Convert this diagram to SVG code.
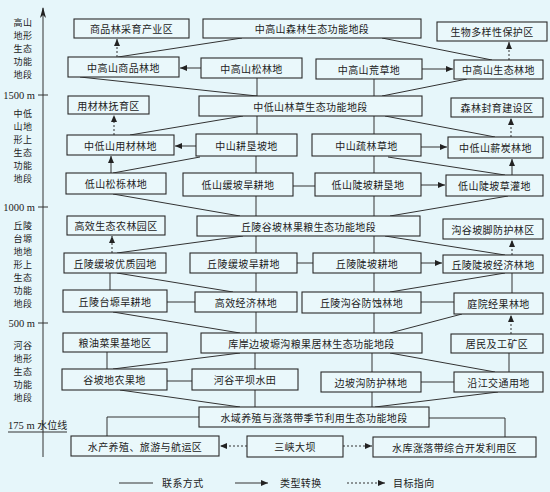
<svg xmlns="http://www.w3.org/2000/svg" width="550" height="492" viewBox="0 0 550 492">
<style>
.bg{fill:#e6f6fa}
.box rect{fill:#eaf8fb;stroke:#2a2a2a;stroke-width:1.1}
.box text,.lbl{font-family:"Noto Sans CJK SC","Noto Sans",sans-serif;font-size:10px;fill:#222;letter-spacing:0.4px}
.box text{text-anchor:middle;dominant-baseline:central}
.ax{font-family:"Noto Sans CJK SC","Noto Sans",sans-serif;font-size:9px;fill:#222;letter-spacing:0.6px;text-anchor:middle}
.num{font-family:"Liberation Serif",serif;font-size:10.5px;fill:#222}
.ln{stroke:#333;stroke-width:1;fill:none}
.ar{stroke:#333;stroke-width:1;fill:none;marker-end:url(#ah)}
.da{stroke:#333;stroke-width:1;fill:none;stroke-dasharray:2,2;marker-end:url(#ah)}
</style>
<defs>
<marker id="ah" markerUnits="userSpaceOnUse" markerWidth="8" markerHeight="6" refX="7" refY="3" orient="auto"><path d="M0,0 L7,3 L0,6 z" fill="#222"/></marker>
<marker id="axh" markerUnits="userSpaceOnUse" markerWidth="8" markerHeight="12" refX="4" refY="1" orient="0"><path d="M4,0 L7,11 L4,8 L1,11 z" fill="#222"/></marker>
</defs>
<rect class="bg" x="0" y="0" width="550" height="492"/>

<g id="axis">
<line class="ln" x1="43" y1="457" x2="43" y2="8" marker-end="url(#axh)"/>
<line class="ln" x1="38" y1="95" x2="48" y2="95"/>
<line class="ln" x1="38" y1="207" x2="48" y2="207"/>
<line class="ln" x1="38" y1="323" x2="48" y2="323"/>
<text class="num" x="35" y="98.5" text-anchor="end">1500 m</text>
<text class="num" x="35" y="210.5" text-anchor="end">1000 m</text>
<text class="num" x="35" y="326.5" text-anchor="end">500 m</text>
<text class="num" x="8" y="429">175 m <tspan font-family="Noto Sans CJK SC,sans-serif" font-size="10">水位线</tspan></text>
<line class="ln" x1="8" y1="432" x2="67" y2="432"/>
<g class="ax">
<text x="23" y="26">高山</text><text x="23" y="39">地形</text><text x="23" y="52">生态</text><text x="23" y="65">功能</text><text x="23" y="78">地段</text>
<text x="23" y="117">中低</text><text x="23" y="130">山地</text><text x="23" y="143">形上</text><text x="23" y="156">生态</text><text x="23" y="169">功能</text><text x="23" y="182">地段</text>
<text x="23" y="229">丘陵</text><text x="23" y="242">台塬</text><text x="23" y="255">地地</text><text x="23" y="268">形上</text><text x="23" y="281">生态</text><text x="23" y="294">功能</text><text x="23" y="307">地段</text>
<text x="23" y="349">河谷</text><text x="23" y="362">地形</text><text x="23" y="375">生态</text><text x="23" y="388">功能</text><text x="23" y="401">地段</text>
</g>
</g>

<g id="connectors">
<line class="ln" x1="242" y1="38" x2="118" y2="57"/>
<line class="ln" x1="382" y1="38" x2="492" y2="60"/>
<line class="ln" x1="80" y1="77" x2="257" y2="96"/>
<line class="ln" x1="467" y1="79" x2="382" y2="96"/>
<line class="ln" x1="243" y1="116" x2="130" y2="135"/>
<line class="ln" x1="385" y1="116" x2="495" y2="137"/>
<line class="ln" x1="200" y1="157" x2="113" y2="173"/>
<line class="ln" x1="388" y1="157" x2="505" y2="175"/>
<line class="ln" x1="113" y1="194" x2="240" y2="216"/>
<line class="ln" x1="508" y1="196" x2="390" y2="216"/>
<line class="ln" x1="243" y1="236" x2="117" y2="253"/>
<line class="ln" x1="385" y1="236" x2="505" y2="255"/>
<line class="ln" x1="117" y1="273" x2="233" y2="292"/>
<line class="ln" x1="505" y1="273" x2="390" y2="292"/>
<line class="ln" x1="113" y1="312" x2="240" y2="333"/>
<line class="ln" x1="462" y1="314" x2="390" y2="333"/>
<line class="ln" x1="240" y1="353" x2="113" y2="369"/>
<line class="ln" x1="390" y1="353" x2="495" y2="372"/>
<line class="ln" x1="120" y1="390" x2="240" y2="407"/>
<line class="ln" x1="498" y1="392" x2="375" y2="407"/>
<line class="ln" x1="257" y1="78" x2="257" y2="96"/>
<line class="ln" x1="374" y1="79" x2="374" y2="96"/>
<line class="ln" x1="257" y1="116" x2="257" y2="134"/>
<line class="ln" x1="374" y1="116" x2="374" y2="134"/>
<line class="ln" x1="256" y1="156" x2="256" y2="173"/>
<line class="ln" x1="374" y1="156" x2="374" y2="173"/>
<line class="ln" x1="256" y1="196" x2="256" y2="216"/>
<line class="ln" x1="374" y1="196" x2="374" y2="216"/>
<line class="ln" x1="256" y1="236" x2="256" y2="253"/>
<line class="ln" x1="374" y1="236" x2="374" y2="253"/>
<line class="ln" x1="256" y1="273" x2="256" y2="292"/>
<line class="ln" x1="374" y1="273" x2="374" y2="292"/>
<line class="ln" x1="110" y1="273" x2="110" y2="290"/>
<line class="ln" x1="512" y1="273" x2="512" y2="293"/>
<line class="ln" x1="256" y1="312" x2="256" y2="333"/>
<line class="ln" x1="374" y1="313" x2="374" y2="333"/>
<line class="ln" x1="107" y1="352" x2="107" y2="369"/>
<line class="ln" x1="255" y1="353" x2="255" y2="369"/>
<line class="ln" x1="372" y1="353" x2="372" y2="372"/>
<line class="ln" x1="509" y1="353" x2="509" y2="372"/>
<line class="ln" x1="255" y1="390" x2="255" y2="407"/>
<line class="ln" x1="372" y1="392" x2="372" y2="407"/>
<line class="ln" x1="293" y1="186" x2="315" y2="186"/>
<line class="ln" x1="297" y1="263" x2="313" y2="263"/>
<line class="ln" x1="167" y1="302" x2="195" y2="302"/>
<line class="ln" x1="421" y1="302" x2="454" y2="302"/>
<line class="ln" x1="167" y1="381" x2="192" y2="381"/>
<line class="ln" x1="421" y1="382" x2="454" y2="382"/>
<polyline class="ln" points="199,417 107,417 107,436"/>
<polyline class="ln" points="429,418 505,418 505,437"/>
<line class="ar" x1="201" y1="68" x2="180" y2="68"/>
<line class="ar" x1="422" y1="69" x2="453" y2="69"/>
<line class="ar" x1="196" y1="146" x2="175" y2="146"/>
<line class="ar" x1="421" y1="147" x2="447" y2="147"/>
<line class="ar" x1="111" y1="173" x2="111" y2="156"/>
<line class="ar" x1="512" y1="175" x2="512" y2="159"/>
<line class="ar" x1="421" y1="185" x2="445" y2="185"/>
<line class="ar" x1="421" y1="263" x2="442" y2="263"/>
<line class="da" x1="117" y1="57" x2="117" y2="39"/>
<line class="da" x1="509" y1="60" x2="509" y2="42"/>
<line class="da" x1="114" y1="135" x2="114" y2="115"/>
<line class="da" x1="511" y1="137" x2="511" y2="118"/>
<line class="da" x1="112" y1="253" x2="112" y2="236"/>
<line class="da" x1="512" y1="255" x2="512" y2="240"/>
<line class="da" x1="511" y1="334" x2="511" y2="315"/>
<line class="da" x1="247" y1="446" x2="220" y2="446"/>
<line class="da" x1="343" y1="446" x2="372" y2="446"/>
</g>

<g id="n1" class="box"><rect x="74" y="19" width="115" height="19"/><text x="131.5" y="28.5">商品林采育产业区</text></g>
<g id="n2" class="box"><rect x="203" y="19" width="218" height="19"/><text x="312" y="28.5">中高山森林生态功能地段</text></g>
<g id="n3" class="box"><rect x="437" y="22" width="110" height="19"/><text x="492" y="31.5">生物多样性保护区</text></g>
<g id="n4" class="box"><rect x="68" y="57" width="111" height="20"/><text x="123.5" y="67">中高山商品林地</text></g>
<g id="n5" class="box"><rect x="201" y="58" width="101" height="20"/><text x="251.5" y="68">中高山松林地</text></g>
<g id="n6" class="box"><rect x="316" y="59" width="106" height="20"/><text x="369" y="69">中高山荒草地</text></g>
<g id="n7" class="box"><rect x="454" y="60" width="89" height="19"/><text x="498.5" y="69.5">中高山生态林地</text></g>

<g id="n8" class="box"><rect x="68" y="96" width="81" height="18"/><text x="108.5" y="105">用材林抚育区</text></g>
<g id="n9" class="box"><rect x="199" y="96" width="223" height="20"/><text x="310.5" y="106">中低山林草生态功能地段</text></g>
<g id="n10" class="box"><rect x="451" y="98" width="92" height="19"/><text x="497" y="107.5">森林封育建设区</text></g>
<g id="n11" class="box"><rect x="67" y="135" width="107" height="20"/><text x="120.5" y="145">中低山用材林地</text></g>
<g id="n12" class="box"><rect x="196" y="134" width="101" height="22"/><text x="246.5" y="145">中山耕垦坡地</text></g>
<g id="n13" class="box"><rect x="312" y="134" width="109" height="22"/><text x="366.5" y="145">中山疏林草地</text></g>
<g id="n14" class="box"><rect x="448" y="137" width="95" height="21"/><text x="495.5" y="147.5">中低山薪炭林地</text></g>
<g id="n15" class="box"><rect x="66" y="173" width="100" height="21"/><text x="116" y="183.5">低山松栎林地</text></g>
<g id="n16" class="box"><rect x="183" y="173" width="110" height="23"/><text x="238" y="184.5">低山缓坡旱耕地</text></g>
<g id="n17" class="box"><rect x="315" y="173" width="106" height="23"/><text x="368" y="184.5">低山陡坡耕垦地</text></g>
<g id="n18" class="box"><rect x="446" y="175" width="97" height="21"/><text x="494.5" y="185.5">低山陡坡草灌地</text></g>

<g id="n19" class="box"><rect x="67" y="216" width="98" height="19"/><text x="116" y="225.5">高效生态农林园区</text></g>
<g id="n20" class="box"><rect x="197" y="216" width="223" height="20"/><text x="308.5" y="226">丘陵谷坡林果粮生态功能地段</text></g>
<g id="n21" class="box"><rect x="443" y="219" width="100" height="20"/><text x="493" y="229">沟谷坡脚防护林区</text></g>
<g id="n22" class="box"><rect x="64" y="253" width="102" height="20"/><text x="115" y="263">丘陵缓坡优质园地</text></g>
<g id="n23" class="box"><rect x="190" y="253" width="107" height="20"/><text x="243.5" y="263">丘陵缓坡旱耕地</text></g>
<g id="n24" class="box"><rect x="313" y="253" width="108" height="20"/><text x="367" y="263">丘陵陡坡耕地</text></g>
<g id="n25" class="box"><rect x="443" y="255" width="100" height="18"/><text x="493" y="264">丘陵陡坡经济林地</text></g>
<g id="n26" class="box"><rect x="63" y="290" width="104" height="22"/><text x="115" y="301">丘陵台塬旱耕地</text></g>
<g id="n27" class="box"><rect x="195" y="292" width="102" height="20"/><text x="246" y="302">高效经济林地</text></g>
<g id="n28" class="box"><rect x="302" y="292" width="119" height="21"/><text x="361.5" y="302.5">丘陵沟谷防蚀林地</text></g>
<g id="n29" class="box"><rect x="454" y="293" width="89" height="21"/><text x="498.5" y="303.5">庭院经果林地</text></g>

<g id="n30" class="box"><rect x="63" y="333" width="104" height="19"/><text x="115" y="342.5">粮油菜果基地区</text></g>
<g id="n31" class="box"><rect x="201" y="333" width="221" height="20"/><text x="311.5" y="343">库岸边坡塬沟粮果居林生态功能地段</text></g>
<g id="n32" class="box"><rect x="451" y="334" width="92" height="19"/><text x="497" y="343.5">居民及工矿区</text></g>
<g id="n33" class="box"><rect x="62" y="369" width="105" height="21"/><text x="114.5" y="379.5">谷坡地农果地</text></g>
<g id="n34" class="box"><rect x="192" y="369" width="106" height="21"/><text x="245" y="379.5">河谷平坝水田</text></g>
<g id="n35" class="box"><rect x="321" y="372" width="100" height="20"/><text x="371" y="382">边坡沟防护林地</text></g>
<g id="n36" class="box"><rect x="454" y="372" width="89" height="20"/><text x="498.5" y="382">沿江交通用地</text></g>

<g id="n37" class="box"><rect x="199" y="407" width="230" height="20"/><text x="314" y="417">水域养殖与涨落带季节利用生态功能地段</text></g>
<g id="n38" class="box"><rect x="71" y="436" width="148" height="20"/><text x="145" y="446">水产养殖、旅游与航运区</text></g>
<g id="n39" class="box"><rect x="247" y="436" width="96" height="21"/><text x="295" y="446.5">三峡大坝</text></g>
<g id="n40" class="box"><rect x="373" y="437" width="163" height="20"/><text x="454.5" y="447">水库涨落带综合开发利用区</text></g>

<g id="legend">
<line class="ln" x1="119" y1="483" x2="153" y2="483"/>
<text class="lbl" x="162" y="487">联系方式</text>
<line class="ar" x1="235" y1="483" x2="268" y2="483"/>
<text class="lbl" x="280" y="487">类型转换</text>
<line class="da" x1="347" y1="483" x2="385" y2="483"/>
<text class="lbl" x="393" y="487">目标指向</text>
</g>
</svg>
